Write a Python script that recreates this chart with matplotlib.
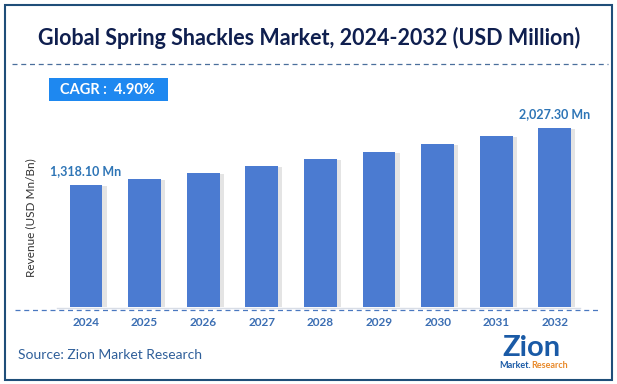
import matplotlib.pyplot as plt
import matplotlib.patheffects as pe
from matplotlib.patches import Rectangle
from matplotlib.lines import Line2D

# 数据
years = ["2024", "2025", "2026", "2027", "2028", "2029", "2030", "2031", "2032"]
revenue = [1318.10, 1392, 1467, 1554, 1641, 1728, 1828, 1927, 2027.30]
labels = {0: "1,318.10 Mn", 8: "2,027.30 Mn"}
cagr_text = "CAGR :  4.90%"
y_floor = -200  # 原图柱子并非从零开始

plt.rcParams['font.family'] = ['Lato', 'DejaVu Sans']

W, H = 617, 384
fig = plt.figure(figsize=(W / 100, H / 100), dpi=100)
fig.patch.set_facecolor("white")


def fx(px):
    return px / W


def fy(py):
    return 1 - py / H


# 外框
fig.add_artist(Rectangle((fx(5), fy(380)), fx(607), (375) / H, transform=fig.transFigure,
                         fill=False, edgecolor="#1f4e79", linewidth=1.5))

# 标题
fig.text(fx(309), fy(38), "Global Spring Shackles Market, 2024-2032 (USD Million)",
         ha="center", va="center", fontsize=15.5, fontweight="bold", color="#0f1f4f")
fig.add_artist(Line2D([fx(12), fx(608)], [fy(64), fy(64)], transform=fig.transFigure,
                      color="#4a6f9c", linewidth=0.9, linestyle=(0, (4, 3))))

# CAGR 标签
fig.add_artist(Rectangle((fx(49), fy(101)), fx(119), 23 / H, transform=fig.transFigure,
                         facecolor="#1e88f0", edgecolor="none"))
fig.text(fx(60), fy(89.5), cagr_text, ha="left", va="center", fontsize=10.5,
         fontweight="bold", color="white")

# 柱状图
ax = fig.add_axes([fx(57), fy(307), fx(523), 197 / H])
x = list(range(len(years)))
heights = [v - y_floor for v in revenue]
bars = ax.bar(x, heights, bottom=y_floor, width=0.56, color="#4b7bd1", zorder=3)
for b in bars:
    b.set_path_effects([pe.SimplePatchShadow(offset=(3, -1), shadow_rgbFace="#888888", alpha=0.22),
                        pe.Normal()])
ax.set_xlim(-0.495, 8.43)
ax.set_ylim(y_floor, 2251)
for i, t in labels.items():
    ax.text(i, revenue[i] + 100, t, ha="center", va="bottom", fontsize=9,
            fontweight="bold", color="#2e75b6")
ax.axis("off")

# 底线
fig.add_artist(Line2D([fx(57), fx(580)], [fy(307.5), fy(307.5)], transform=fig.transFigure,
                      color="#d8dde6", linewidth=1))
fig.add_artist(Line2D([fx(15), fx(600)], [fy(310), fy(310)], transform=fig.transFigure,
                      color="#4a78c0", linewidth=0.9, linestyle=(0, (4, 3))))

# 年份
for i, y in enumerate(years):
    px = 86 + i * 58.6
    fig.text(fx(px), fy(322), y, ha="center", va="center", fontsize=8.5,
             fontweight="bold", color="#3b6eb3")

# Y 轴标题
fig.text(fx(31), fy(218), "Revenue (USD Mn/Bn)", rotation=90, ha="center", va="center",
         fontsize=8.5, color="#333333")

# 来源
fig.text(fx(18), fy(355), "Source: Zion Market Research", ha="left", va="center",
         fontsize=10, color="#2f5f9a")

# Logo
fig.text(fx(531), fy(348), "Zion", ha="center", va="center", fontsize=21,
         fontweight="bold", color="#1a5aa6")
fig.text(fx(531), fy(365), "Market.", ha="right", va="center", fontsize=6.5,
         fontweight="bold", color="#1a5aa6")
fig.text(fx(531), fy(365), "Research", ha="left", va="center", fontsize=6.5,
         fontweight="bold", color="#e8892a")

fig.savefig("out.png", dpi=100)
